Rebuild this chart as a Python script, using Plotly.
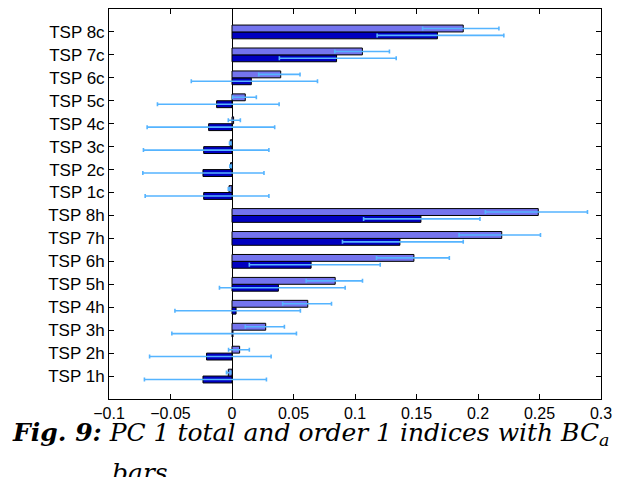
import plotly.graph_objects as go

categories = ["TSP 1h", "TSP 2h", "TSP 3h", "TSP 4h", "TSP 5h", "TSP 6h", "TSP 7h", "TSP 8h",
              "TSP 1c", "TSP 2c", "TSP 3c", "TSP 4c", "TSP 5c", "TSP 6c", "TSP 7c", "TSP 8c"]

# total indices
total = [-0.003, 0.0062, 0.0274, 0.0616, 0.0839, 0.1479, 0.2193, 0.249,
         -0.0024, -0.0012, -0.0014, 0.0013, 0.0108, 0.0396, 0.106, 0.188]
total_lo = [-0.0045, -0.0028, 0.0108, 0.0412, 0.0603, 0.1175, 0.1846, 0.206,
            -0.0030, -0.0018, -0.0020, -0.003, 0.0005, 0.0217, 0.0836, 0.155]
total_hi = [-0.001, 0.0141, 0.0426, 0.0809, 0.1061, 0.1767, 0.2508, 0.289,
            -0.0018, -0.0006, -0.0008, 0.0068, 0.0198, 0.0553, 0.128, 0.217]

# order 1 indices
order1 = [-0.0236, -0.0207, 0.0008, 0.0033, 0.0377, 0.0643, 0.1365, 0.1536,
          -0.023, -0.0236, -0.023, -0.019, -0.0125, 0.0157, 0.085, 0.167]
order1_lo = [-0.0712, -0.067, -0.0489, -0.0464, -0.0102, 0.0141, 0.0898, 0.107,
             -0.0706, -0.0725, -0.072, -0.069, -0.0606, -0.0331, 0.0385, 0.118]
order1_hi = [0.028, 0.0318, 0.0524, 0.0556, 0.092, 0.1205, 0.188, 0.2016,
             0.030, 0.026, 0.030, 0.0347, 0.0383, 0.0695, 0.1335, 0.221]

xtick_vals = [-0.1, -0.05, 0, 0.05, 0.1, 0.15, 0.2, 0.25, 0.3]
xtick_text = ["\u22120.1", "\u22120.05", "0", "0.05", "0.1", "0.15", "0.2", "0.25", "0.3"]

ERR = "#55b4ff"

def err(vals, lo, hi):
    return dict(type="data", symmetric=False,
                array=[h - v for v, h in zip(vals, hi)],
                arrayminus=[v - l for v, l in zip(vals, lo)],
                color=ERR, thickness=1.6, width=2)

fig = go.Figure()
fig.add_trace(go.Bar(y=categories, x=order1, orientation="h", name="order 1",
                     marker=dict(color="#0000c0", line=dict(color="black", width=1)),
                     error_x=err(order1, order1_lo, order1_hi)))
fig.add_trace(go.Bar(y=categories, x=total, orientation="h", name="total",
                     marker=dict(color="#7474ee", line=dict(color="black", width=1)),
                     error_x=err(total, total_lo, total_hi)))

fig.update_layout(
    width=620, height=477,
    margin=dict(l=109, r=19, t=9, b=78),
    barmode="group", bargap=0.4, bargroupgap=0,
    plot_bgcolor="white", paper_bgcolor="white",
    showlegend=False,
    font=dict(family="Liberation Sans, Arial, sans-serif", color="black"),
    xaxis=dict(range=[-0.1, 0.3], tickvals=xtick_vals, ticktext=xtick_text,
               ticks="inside", ticklen=5, tickcolor="black", automargin=False,
               showline=True, linecolor="black", linewidth=1, mirror="ticks",
               showgrid=False, zeroline=True, zerolinecolor="black", zerolinewidth=1,
               tickfont=dict(size=16)),
    yaxis=dict(type="category", categoryorder="array", categoryarray=categories,
               range=[-1, 16], ticks="inside", ticklen=5, tickcolor="black", automargin=False,
               showline=True, linecolor="black", linewidth=1, mirror="ticks",
               showgrid=False, tickfont=dict(size=17)),
    annotations=[
        dict(xref="paper", yref="paper", x=-0.2, y=-0.046, xanchor="left", yanchor="top",
             showarrow=False, borderpad=0,
             text="<b><i>Fig. 9:</i></b> <i>PC 1 total and order 1 indices with BC<sub>a</sub></i>",
             font=dict(family="DejaVu Serif, serif", size=25, color="black")),
        dict(xref="paper", yref="paper", x=0.004, y=-0.15, xanchor="left", yanchor="top",
             showarrow=False, borderpad=0, text="<i>bars</i>",
             font=dict(family="DejaVu Serif, serif", size=25, color="black")),
    ],
)

fig.write_html("out.html", config={"displayModeBar": False},
               post_script="document.body.style.margin='0';document.body.style.overflow='hidden';")
